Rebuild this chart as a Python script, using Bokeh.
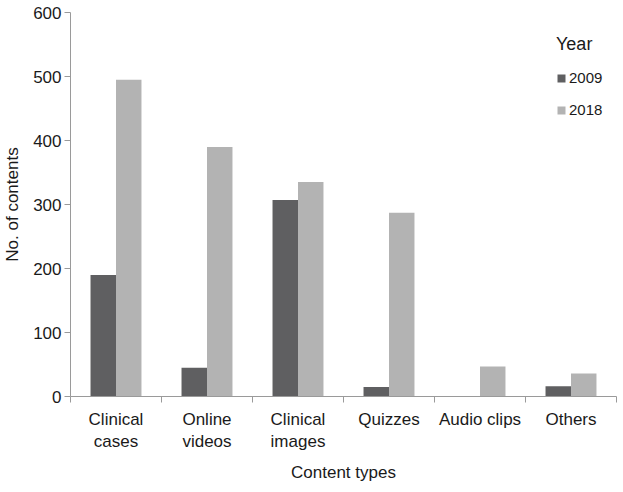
import numpy as np
from bokeh.plotting import figure
from bokeh.models import ColumnDataSource, FixedTicker, Range1d, Legend, LegendItem
from bokeh.transform import dodge
from bokeh.embed import file_html
from bokeh.resources import INLINE

categories = ["Clinical\ncases", "Online\nvideos", "Clinical\nimages", "Quizzes", "Audio clips", "Others"]
values_2009 = [190, 45, 307, 15, 0, 16]
values_2018 = [495, 390, 335, 287, 47, 36]
y_ticks = [0, 100, 200, 300, 400, 500, 600]

FONT = "Liberation Sans"
TXT = "#1a1a1a"
AX = "#9a9a9a"

centers = np.arange(len(categories)) + 0.5
src = ColumnDataSource(dict(x=centers, v09=values_2009, v18=values_2018))

p = figure(width=623, height=492, output_backend="svg", toolbar_location=None,
           x_range=Range1d(0, len(categories)), y_range=Range1d(0, 600),
           min_border_left=70, min_border_right=7, min_border_top=12, min_border_bottom=96)
p.outline_line_color = None
p.xgrid.visible = False
p.ygrid.visible = False

r1 = p.vbar(x=dodge("x", -0.14), top="v09", width=0.28, source=src,
            fill_color="#5f5f61", line_color=None)
r2 = p.vbar(x=dodge("x", 0.14), top="v18", width=0.28, source=src,
            fill_color="#b3b3b3", line_color=None)

# x axis: labels at category centres, ticks at boundaries
xa = p.xaxis[0]
xa.ticker = FixedTicker(ticks=list(centers), minor_ticks=list(range(len(categories) + 1)))
xa.major_label_overrides = {float(c): lab for c, lab in zip(centers, categories)}
xa.major_tick_line_color = None
xa.major_tick_out = 6
xa.minor_tick_line_color = AX
xa.minor_tick_out = 6
xa.minor_tick_in = 0
xa.axis_line_color = AX
xa.major_label_text_font = FONT
xa.major_label_text_font_size = "17px"
xa.major_label_text_color = TXT
xa.major_label_standoff = 7
xa.axis_label = "Content types"
xa.axis_label_text_font = FONT
xa.axis_label_text_font_size = "17px"
xa.axis_label_text_font_style = "normal"
xa.axis_label_text_color = TXT
xa.axis_label_standoff = 9

ya = p.yaxis[0]
ya.ticker = FixedTicker(ticks=y_ticks, minor_ticks=[])
ya.axis_line_color = AX
ya.major_tick_line_color = AX
ya.major_tick_out = 6
ya.major_tick_in = 0
ya.major_label_text_font = FONT
ya.major_label_text_font_size = "17px"
ya.major_label_text_color = TXT
ya.major_label_standoff = 3
ya.axis_label = "No. of contents"
ya.axis_label_text_font = FONT
ya.axis_label_text_font_size = "17px"
ya.axis_label_text_font_style = "normal"
ya.axis_label_text_color = TXT
ya.axis_label_standoff = 8

legend = Legend(items=[LegendItem(label="2009", renderers=[r1]),
                       LegendItem(label="2018", renderers=[r2])],
                location=(486, 278), title="Year")
legend.title_text_font = FONT
legend.title_text_font_size = "18px"
legend.title_text_font_style = "normal"
legend.title_text_color = TXT
legend.title_standoff = 14
legend.label_text_font = FONT
legend.label_text_font_size = "15px"
legend.label_text_color = TXT
legend.glyph_width = 10
legend.glyph_height = 10
legend.label_standoff = 3
legend.spacing = 15
legend.padding = 0
legend.margin = 0
legend.border_line_color = None
legend.background_fill_alpha = 0
p.add_layout(legend)

open("out.html", "w").write(file_html(p, INLINE))
